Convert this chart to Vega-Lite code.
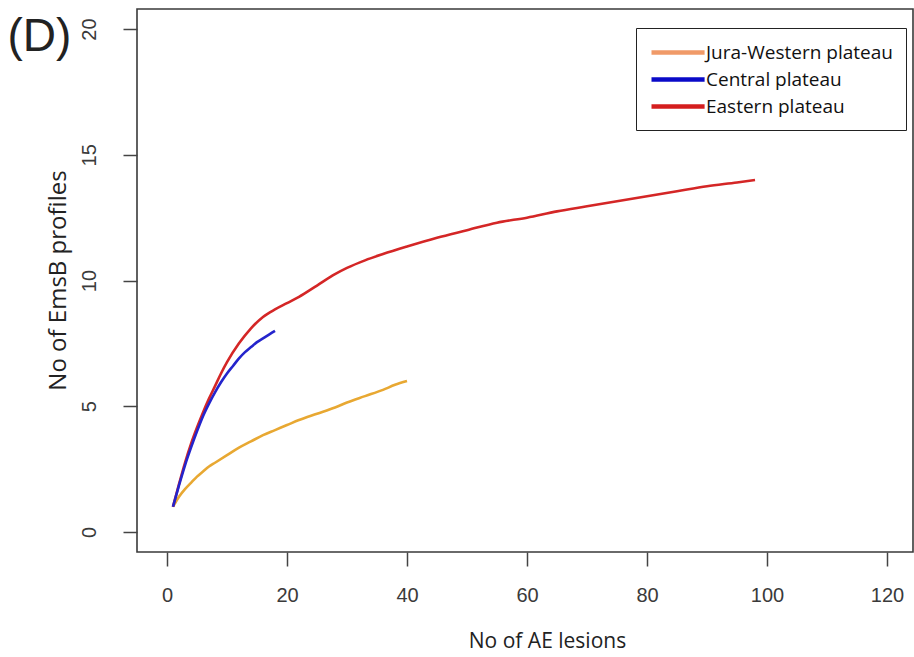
{
  "$schema": "https://vega.github.io/schema/vega-lite/v6.json",
  "width": 776,
  "height": 543,
  "autosize": {"type": "none"},
  "padding": {"left": 137, "top": 9, "right": 1, "bottom": 105},
  "background": "white",
  "config": {
    "view": {"stroke": "#3a3a3a", "strokeWidth": 1.6},
    "axis": {
      "domain": false,
      "grid": false,
      "tickColor": "#444444",
      "tickWidth": 1.5,
      "tickSize": 14,
      "labelFont": "Liberation Sans",
      "labelFontSize": 20,
      "labelColor": "#3a3a3a",
      "titleFont": "Open Sans",
      "titleFontSize": 21,
      "titleFontWeight": "normal",
      "titleColor": "#222222"
    }
  },
  "data": {
    "values": [
      {"region": "Jura-Western plateau", "lesions": 1, "profiles": 1},
      {"region": "Jura-Western plateau", "lesions": 2, "profiles": 1.4},
      {"region": "Jura-Western plateau", "lesions": 3, "profiles": 1.7},
      {"region": "Jura-Western plateau", "lesions": 4, "profiles": 1.95},
      {"region": "Jura-Western plateau", "lesions": 5, "profiles": 2.2},
      {"region": "Jura-Western plateau", "lesions": 6, "profiles": 2.4},
      {"region": "Jura-Western plateau", "lesions": 7, "profiles": 2.6},
      {"region": "Jura-Western plateau", "lesions": 8, "profiles": 2.75},
      {"region": "Jura-Western plateau", "lesions": 10, "profiles": 3.05},
      {"region": "Jura-Western plateau", "lesions": 12, "profiles": 3.35},
      {"region": "Jura-Western plateau", "lesions": 14, "profiles": 3.6},
      {"region": "Jura-Western plateau", "lesions": 16, "profiles": 3.85},
      {"region": "Jura-Western plateau", "lesions": 18, "profiles": 4.05},
      {"region": "Jura-Western plateau", "lesions": 20, "profiles": 4.25},
      {"region": "Jura-Western plateau", "lesions": 22, "profiles": 4.45},
      {"region": "Jura-Western plateau", "lesions": 25, "profiles": 4.7},
      {"region": "Jura-Western plateau", "lesions": 28, "profiles": 4.95},
      {"region": "Jura-Western plateau", "lesions": 30, "profiles": 5.15},
      {"region": "Jura-Western plateau", "lesions": 33, "profiles": 5.4},
      {"region": "Jura-Western plateau", "lesions": 36, "profiles": 5.65},
      {"region": "Jura-Western plateau", "lesions": 38, "profiles": 5.85},
      {"region": "Jura-Western plateau", "lesions": 40, "profiles": 6.0},
      {"region": "Eastern plateau", "lesions": 1, "profiles": 1},
      {"region": "Eastern plateau", "lesions": 2, "profiles": 1.9},
      {"region": "Eastern plateau", "lesions": 3, "profiles": 2.75},
      {"region": "Eastern plateau", "lesions": 4, "profiles": 3.5},
      {"region": "Eastern plateau", "lesions": 5, "profiles": 4.15},
      {"region": "Eastern plateau", "lesions": 6, "profiles": 4.75},
      {"region": "Eastern plateau", "lesions": 7, "profiles": 5.3},
      {"region": "Eastern plateau", "lesions": 8, "profiles": 5.8},
      {"region": "Eastern plateau", "lesions": 9, "profiles": 6.3},
      {"region": "Eastern plateau", "lesions": 10, "profiles": 6.75},
      {"region": "Eastern plateau", "lesions": 12, "profiles": 7.5},
      {"region": "Eastern plateau", "lesions": 14, "profiles": 8.1},
      {"region": "Eastern plateau", "lesions": 16, "profiles": 8.55},
      {"region": "Eastern plateau", "lesions": 18, "profiles": 8.85},
      {"region": "Eastern plateau", "lesions": 20, "profiles": 9.1},
      {"region": "Eastern plateau", "lesions": 22, "profiles": 9.35},
      {"region": "Eastern plateau", "lesions": 25, "profiles": 9.8},
      {"region": "Eastern plateau", "lesions": 28, "profiles": 10.25},
      {"region": "Eastern plateau", "lesions": 30, "profiles": 10.5},
      {"region": "Eastern plateau", "lesions": 33, "profiles": 10.8},
      {"region": "Eastern plateau", "lesions": 36, "profiles": 11.05},
      {"region": "Eastern plateau", "lesions": 40, "profiles": 11.35},
      {"region": "Eastern plateau", "lesions": 45, "profiles": 11.7},
      {"region": "Eastern plateau", "lesions": 50, "profiles": 12.0},
      {"region": "Eastern plateau", "lesions": 55, "profiles": 12.3},
      {"region": "Eastern plateau", "lesions": 60, "profiles": 12.5},
      {"region": "Eastern plateau", "lesions": 65, "profiles": 12.75},
      {"region": "Eastern plateau", "lesions": 70, "profiles": 12.95},
      {"region": "Eastern plateau", "lesions": 75, "profiles": 13.15},
      {"region": "Eastern plateau", "lesions": 80, "profiles": 13.35},
      {"region": "Eastern plateau", "lesions": 85, "profiles": 13.55},
      {"region": "Eastern plateau", "lesions": 90, "profiles": 13.75},
      {"region": "Eastern plateau", "lesions": 95, "profiles": 13.9},
      {"region": "Eastern plateau", "lesions": 98, "profiles": 14.0},
      {"region": "Central plateau", "lesions": 1, "profiles": 1},
      {"region": "Central plateau", "lesions": 2, "profiles": 1.85},
      {"region": "Central plateau", "lesions": 3, "profiles": 2.65},
      {"region": "Central plateau", "lesions": 4, "profiles": 3.35},
      {"region": "Central plateau", "lesions": 5, "profiles": 4.0},
      {"region": "Central plateau", "lesions": 6, "profiles": 4.6},
      {"region": "Central plateau", "lesions": 7, "profiles": 5.1},
      {"region": "Central plateau", "lesions": 8, "profiles": 5.55},
      {"region": "Central plateau", "lesions": 9, "profiles": 5.95},
      {"region": "Central plateau", "lesions": 10, "profiles": 6.3},
      {"region": "Central plateau", "lesions": 11, "profiles": 6.6},
      {"region": "Central plateau", "lesions": 12, "profiles": 6.9},
      {"region": "Central plateau", "lesions": 13, "profiles": 7.15},
      {"region": "Central plateau", "lesions": 14, "profiles": 7.35},
      {"region": "Central plateau", "lesions": 15, "profiles": 7.55},
      {"region": "Central plateau", "lesions": 16, "profiles": 7.7},
      {"region": "Central plateau", "lesions": 17, "profiles": 7.85},
      {"region": "Central plateau", "lesions": 18, "profiles": 8.0}
    ]
  },
  "encoding": {
    "y": {
      "field": "profiles",
      "type": "quantitative",
      "scale": {"domain": [-0.8, 20.8], "nice": false, "zero": false},
      "axis": {
        "values": [0, 5, 10, 15, 20],
        "title": "No of EmsB profiles",
        "titleFontSize": 24,
        "labelAngle": 270,
        "labelAlign": "center",
        "labelBaseline": "alphabetic",
        "labelPadding": 28,
        "titleAngle": 270,
        "titleX": -79,
        "titleY": 271,
        "titleBaseline": "middle",
        "titleAlign": "center"
      }
    }
  },
  "layer": [
    {
      "mark": {"type": "line", "strokeWidth": 2.6, "interpolate": "monotone"},
      "encoding": {
        "x": {
          "field": "lesions",
          "type": "quantitative",
          "scale": {"domain": [-5, 124.33], "nice": false, "zero": false},
          "axis": {
            "values": [0, 20, 40, 60, 80, 100, 120],
            "title": "No of AE lesions",
            "labelBaseline": "alphabetic",
            "labelPadding": 35,
            "titleX": 410,
            "titleY": 89,
            "titleBaseline": "middle",
            "titleAnchor": "middle"
          }
        },
        "color": {
          "field": "region",
          "type": "nominal",
          "scale": {
            "domain": ["Jura-Western plateau", "Central plateau", "Eastern plateau"],
            "range": ["#e8a832", "#2424cc", "#d42626"]
          },
          "legend": null
        }
      }
    },
    {
      "mark": {"type": "line", "opacity": 0},
      "encoding": {
        "x": {
          "field": "lesions",
          "type": "quantitative",
          "axis": {
            "orient": "top",
            "ticks": false,
            "labels": false,
            "domain": false,
            "title": "(D)",
            "titleFont": "Liberation Sans",
            "titleFontSize": 46,
            "titleFontWeight": "normal",
            "titleColor": "#222222",
            "titleAngle": 0,
            "titleAlign": "left",
            "titleAnchor": "start",
            "titleBaseline": "alphabetic",
            "titleX": -130,
            "titleY": 41
          }
        },
        "color": {
          "field": "region",
          "type": "nominal",
          "scale": {
            "domain": ["Jura-Western plateau", "Central plateau", "Eastern plateau"],
            "range": ["#f09a68", "#0a0ac8", "#d41e1e"]
          },
          "legend": {
            "title": null,
            "orient": "none",
            "legendX": 499,
            "legendY": 19,
            "direction": "vertical",
            "symbolType": "M-1,0L4.9,0",
            "symbolSize": 324,
            "symbolStrokeWidth": 4.5,
            "symbolOpacity": 1,
            "symbolFillColor": "transparent",
            "labelFont": "Open Sans",
            "labelFontSize": 19,
            "labelColor": "#111111",
            "labelOffset": 34,
            "labelLimit": 400,
            "rowPadding": 5,
            "padding": 13,
            "fillColor": "white",
            "strokeColor": "#222222"
          }
        }
      }
    }
  ],
  "resolve": {"scale": {"color": "independent"}, "axis": {"x": "independent"}}
}
